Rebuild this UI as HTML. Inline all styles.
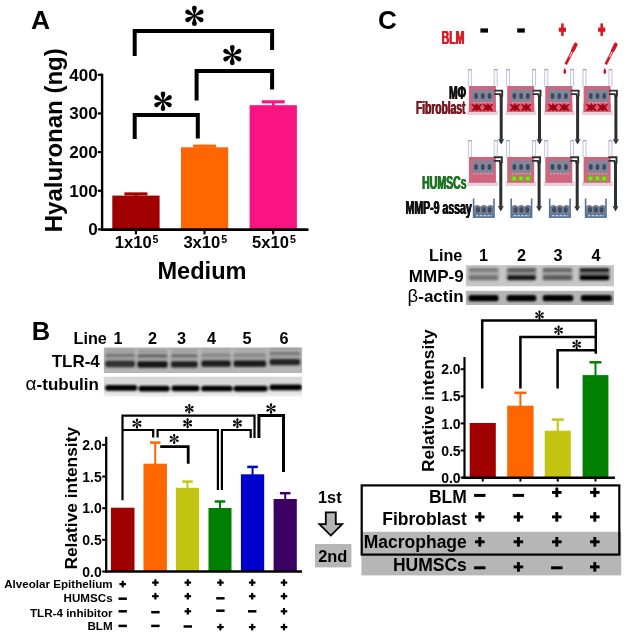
<!DOCTYPE html>
<html><head><meta charset="utf-8"><title>Figure</title>
<style>
html,body{margin:0;padding:0;background:#fff;}
body{width:628px;height:635px;overflow:hidden;}
svg{display:block;font-family:'Liberation Sans',sans-serif;filter:blur(0.45px);}
svg text{font-family:'Liberation Sans',sans-serif;}
</style></head>
<body>
<svg width="628" height="635" viewBox="0 0 628 635">
<defs>
<filter id="blur1" x="-5%" y="-50%" width="110%" height="200%"><feGaussianBlur stdDeviation="1.1 0.9"/></filter>
</defs>
<rect width="628" height="635" fill="#fff"/>
<text x="31" y="28.6" font-size="26.4" font-weight="bold" text-anchor="start" fill="#000"  style="">A</text>
<text transform="translate(62,232.3) rotate(-90)" font-size="24" font-weight="bold">Hyaluronan (ng)</text>
<line x1="135.95" y1="193.9" x2="135.95" y2="196.6" stroke="#a00000" stroke-width="2.6" stroke-linecap="butt"/>
<line x1="124.44999999999999" y1="193.9" x2="147.45" y2="193.9" stroke="#a00000" stroke-width="3.1" stroke-linecap="butt"/>
<rect x="112.3" y="195.6" width="47.3" height="33.80000000000001" fill="#a00000" />
<line x1="204.6" y1="146.1" x2="204.6" y2="148.3" stroke="#ff6600" stroke-width="2.6" stroke-linecap="butt"/>
<line x1="193.1" y1="146.1" x2="216.1" y2="146.1" stroke="#ff6600" stroke-width="3.1" stroke-linecap="butt"/>
<rect x="181.0" y="147.3" width="47.19999999999999" height="82.1" fill="#ff6600" />
<line x1="273.25" y1="101.8" x2="273.25" y2="106.2" stroke="#fa1482" stroke-width="2.6" stroke-linecap="butt"/>
<line x1="261.75" y1="101.8" x2="284.75" y2="101.8" stroke="#fa1482" stroke-width="3.1" stroke-linecap="butt"/>
<rect x="249.6" y="105.2" width="47.29999999999998" height="124.2" fill="#fa1482" />
<line x1="102.1" y1="73.7" x2="102.1" y2="230.8" stroke="#000" stroke-width="2.4" stroke-linecap="butt"/>
<line x1="100.9" y1="229.6" x2="308.5" y2="229.6" stroke="#000" stroke-width="2.8" stroke-linecap="butt"/>
<line x1="97.8" y1="74.8" x2="102" y2="74.8" stroke="#000" stroke-width="2.2" stroke-linecap="butt"/>
<text x="97.6" y="80.8" font-size="17" font-weight="bold" text-anchor="end" fill="#000"  style="">400</text>
<line x1="97.8" y1="113.44999999999999" x2="102" y2="113.44999999999999" stroke="#000" stroke-width="2.2" stroke-linecap="butt"/>
<text x="97.6" y="119.44999999999999" font-size="17" font-weight="bold" text-anchor="end" fill="#000"  style="">300</text>
<line x1="97.8" y1="152.1" x2="102" y2="152.1" stroke="#000" stroke-width="2.2" stroke-linecap="butt"/>
<text x="97.6" y="158.1" font-size="17" font-weight="bold" text-anchor="end" fill="#000"  style="">200</text>
<line x1="97.8" y1="190.75" x2="102" y2="190.75" stroke="#000" stroke-width="2.2" stroke-linecap="butt"/>
<text x="97.6" y="196.75" font-size="17" font-weight="bold" text-anchor="end" fill="#000"  style="">100</text>
<line x1="97.8" y1="229.39999999999998" x2="102" y2="229.39999999999998" stroke="#000" stroke-width="2.2" stroke-linecap="butt"/>
<text x="97.6" y="235.39999999999998" font-size="17" font-weight="bold" text-anchor="end" fill="#000"  style="">0</text>
<line x1="135.9" y1="229.6" x2="135.9" y2="234.4" stroke="#000" stroke-width="2.2" stroke-linecap="butt"/>
<line x1="204.5" y1="229.6" x2="204.5" y2="234.4" stroke="#000" stroke-width="2.2" stroke-linecap="butt"/>
<line x1="273.2" y1="229.6" x2="273.2" y2="234.4" stroke="#000" stroke-width="2.2" stroke-linecap="butt"/>
<text x="114.8" y="247.6" font-size="16.6" font-weight="bold">1x10<tspan font-size="10.6" dy="-5" dx="0.9">5</tspan></text>
<text x="183.4" y="247.6" font-size="16.6" font-weight="bold">3x10<tspan font-size="10.6" dy="-5" dx="0.9">5</tspan></text>
<text x="252.1" y="247.6" font-size="16.6" font-weight="bold">5x10<tspan font-size="10.6" dy="-5" dx="0.9">5</tspan></text>
<text x="202" y="279.2" font-size="23.6" font-weight="bold" text-anchor="middle" fill="#000"  style="">Medium</text>
<polyline points="134.7,56 134.7,31 272.1,31 272.1,50" fill="none" stroke="#000" stroke-width="4" stroke-linejoin="miter" stroke-linecap="butt"/>
<g transform="translate(194.4,15.9)" fill="#000">
<path d="M-0.51,0 C-0.714,-3.06 -2.3970000000000002,-5.9159999999999995 -2.3970000000000002,-7.803000000000001 A2.3970000000000002,2.3970000000000002 0 1 1 2.3970000000000002,-7.803000000000001 C2.3970000000000002,-5.9159999999999995 0.714,-3.06 0.51,0 Z" transform="rotate(0)"/>
<path d="M-0.51,0 C-0.714,-3.06 -2.3970000000000002,-5.9159999999999995 -2.3970000000000002,-7.803000000000001 A2.3970000000000002,2.3970000000000002 0 1 1 2.3970000000000002,-7.803000000000001 C2.3970000000000002,-5.9159999999999995 0.714,-3.06 0.51,0 Z" transform="rotate(60)"/>
<path d="M-0.51,0 C-0.714,-3.06 -2.3970000000000002,-5.9159999999999995 -2.3970000000000002,-7.803000000000001 A2.3970000000000002,2.3970000000000002 0 1 1 2.3970000000000002,-7.803000000000001 C2.3970000000000002,-5.9159999999999995 0.714,-3.06 0.51,0 Z" transform="rotate(120)"/>
<path d="M-0.51,0 C-0.714,-3.06 -2.3970000000000002,-5.9159999999999995 -2.3970000000000002,-7.803000000000001 A2.3970000000000002,2.3970000000000002 0 1 1 2.3970000000000002,-7.803000000000001 C2.3970000000000002,-5.9159999999999995 0.714,-3.06 0.51,0 Z" transform="rotate(180)"/>
<path d="M-0.51,0 C-0.714,-3.06 -2.3970000000000002,-5.9159999999999995 -2.3970000000000002,-7.803000000000001 A2.3970000000000002,2.3970000000000002 0 1 1 2.3970000000000002,-7.803000000000001 C2.3970000000000002,-5.9159999999999995 0.714,-3.06 0.51,0 Z" transform="rotate(240)"/>
<path d="M-0.51,0 C-0.714,-3.06 -2.3970000000000002,-5.9159999999999995 -2.3970000000000002,-7.803000000000001 A2.3970000000000002,2.3970000000000002 0 1 1 2.3970000000000002,-7.803000000000001 C2.3970000000000002,-5.9159999999999995 0.714,-3.06 0.51,0 Z" transform="rotate(300)"/>
<circle r="1.122"/>
</g>
<polyline points="196.6,100.5 196.6,70.9 272.1,70.9 272.1,89.5" fill="none" stroke="#000" stroke-width="4" stroke-linejoin="miter" stroke-linecap="butt"/>
<g transform="translate(232.3,55.1)" fill="#000">
<path d="M-0.505,0 C-0.707,-3.0300000000000002 -2.3735,-5.858 -2.3735,-7.726500000000001 A2.3735,2.3735 0 1 1 2.3735,-7.726500000000001 C2.3735,-5.858 0.707,-3.0300000000000002 0.505,0 Z" transform="rotate(0)"/>
<path d="M-0.505,0 C-0.707,-3.0300000000000002 -2.3735,-5.858 -2.3735,-7.726500000000001 A2.3735,2.3735 0 1 1 2.3735,-7.726500000000001 C2.3735,-5.858 0.707,-3.0300000000000002 0.505,0 Z" transform="rotate(60)"/>
<path d="M-0.505,0 C-0.707,-3.0300000000000002 -2.3735,-5.858 -2.3735,-7.726500000000001 A2.3735,2.3735 0 1 1 2.3735,-7.726500000000001 C2.3735,-5.858 0.707,-3.0300000000000002 0.505,0 Z" transform="rotate(120)"/>
<path d="M-0.505,0 C-0.707,-3.0300000000000002 -2.3735,-5.858 -2.3735,-7.726500000000001 A2.3735,2.3735 0 1 1 2.3735,-7.726500000000001 C2.3735,-5.858 0.707,-3.0300000000000002 0.505,0 Z" transform="rotate(180)"/>
<path d="M-0.505,0 C-0.707,-3.0300000000000002 -2.3735,-5.858 -2.3735,-7.726500000000001 A2.3735,2.3735 0 1 1 2.3735,-7.726500000000001 C2.3735,-5.858 0.707,-3.0300000000000002 0.505,0 Z" transform="rotate(240)"/>
<path d="M-0.505,0 C-0.707,-3.0300000000000002 -2.3735,-5.858 -2.3735,-7.726500000000001 A2.3735,2.3735 0 1 1 2.3735,-7.726500000000001 C2.3735,-5.858 0.707,-3.0300000000000002 0.505,0 Z" transform="rotate(300)"/>
<circle r="1.1110000000000002"/>
</g>
<polyline points="134.7,139 134.7,114.9 197.8,114.9 197.8,138.5" fill="none" stroke="#000" stroke-width="4" stroke-linejoin="miter" stroke-linecap="butt"/>
<g transform="translate(163,101.2)" fill="#000">
<path d="M-0.49000000000000005,0 C-0.686,-2.9400000000000004 -2.3030000000000004,-5.684 -2.3030000000000004,-7.497000000000001 A2.3030000000000004,2.3030000000000004 0 1 1 2.3030000000000004,-7.497000000000001 C2.3030000000000004,-5.684 0.686,-2.9400000000000004 0.49000000000000005,0 Z" transform="rotate(0)"/>
<path d="M-0.49000000000000005,0 C-0.686,-2.9400000000000004 -2.3030000000000004,-5.684 -2.3030000000000004,-7.497000000000001 A2.3030000000000004,2.3030000000000004 0 1 1 2.3030000000000004,-7.497000000000001 C2.3030000000000004,-5.684 0.686,-2.9400000000000004 0.49000000000000005,0 Z" transform="rotate(60)"/>
<path d="M-0.49000000000000005,0 C-0.686,-2.9400000000000004 -2.3030000000000004,-5.684 -2.3030000000000004,-7.497000000000001 A2.3030000000000004,2.3030000000000004 0 1 1 2.3030000000000004,-7.497000000000001 C2.3030000000000004,-5.684 0.686,-2.9400000000000004 0.49000000000000005,0 Z" transform="rotate(120)"/>
<path d="M-0.49000000000000005,0 C-0.686,-2.9400000000000004 -2.3030000000000004,-5.684 -2.3030000000000004,-7.497000000000001 A2.3030000000000004,2.3030000000000004 0 1 1 2.3030000000000004,-7.497000000000001 C2.3030000000000004,-5.684 0.686,-2.9400000000000004 0.49000000000000005,0 Z" transform="rotate(180)"/>
<path d="M-0.49000000000000005,0 C-0.686,-2.9400000000000004 -2.3030000000000004,-5.684 -2.3030000000000004,-7.497000000000001 A2.3030000000000004,2.3030000000000004 0 1 1 2.3030000000000004,-7.497000000000001 C2.3030000000000004,-5.684 0.686,-2.9400000000000004 0.49000000000000005,0 Z" transform="rotate(240)"/>
<path d="M-0.49000000000000005,0 C-0.686,-2.9400000000000004 -2.3030000000000004,-5.684 -2.3030000000000004,-7.497000000000001 A2.3030000000000004,2.3030000000000004 0 1 1 2.3030000000000004,-7.497000000000001 C2.3030000000000004,-5.684 0.686,-2.9400000000000004 0.49000000000000005,0 Z" transform="rotate(300)"/>
<circle r="1.0780000000000003"/>
</g>
<text x="31.8" y="340.2" font-size="25.5" font-weight="bold" text-anchor="start" fill="#000"  style="">B</text>
<text x="73.6" y="343.6" font-size="16.2" font-weight="bold" text-anchor="start" fill="#000"  style="">Line</text>
<text x="118.0" y="343.6" font-size="16.2" font-weight="bold" text-anchor="middle" fill="#000"  style="">1</text>
<text x="152.4" y="343.6" font-size="16.2" font-weight="bold" text-anchor="middle" fill="#000"  style="">2</text>
<text x="181.6" y="343.6" font-size="16.2" font-weight="bold" text-anchor="middle" fill="#000"  style="">3</text>
<text x="211.6" y="343.6" font-size="16.2" font-weight="bold" text-anchor="middle" fill="#000"  style="">4</text>
<text x="247.1" y="343.6" font-size="16.2" font-weight="bold" text-anchor="middle" fill="#000"  style="">5</text>
<text x="283.9" y="343.6" font-size="16.2" font-weight="bold" text-anchor="middle" fill="#000"  style="">6</text>
<text x="99.8" y="367.4" font-size="17" font-weight="bold" text-anchor="end" fill="#000"  style="">TLR-4</text>
<text x="98.9" y="389.7" font-size="17" font-weight="bold" text-anchor="end"><tspan font-weight="normal" font-size="19">α</tspan>-tubulin</text>
<linearGradient id="gb1" x1="0" y1="0" x2="0" y2="1"><stop offset="0" stop-color="#b2b2b2"/><stop offset="0.45" stop-color="#c0c0c0"/><stop offset="1" stop-color="#b4b4b4"/></linearGradient>
<g clip-path="url(#b1c)"><clipPath id="b1c"><rect x="103.6" y="347.3" width="198.7" height="25.8"/></clipPath>
<rect x="103.6" y="347.3" width="198.7" height="25.8" fill="url(#gb1)" />
<g filter="url(#blur1)">
<rect x="104.39999999999999" y="353.4" width="31.4" height="15" rx="2.6" fill="#7c7c7c" opacity="0.42"/>
<rect x="105.39999999999999" y="353.59999999999997" width="29.4" height="3.4" rx="1.7" fill="#505050" opacity="0.55"/>
<rect x="105.39999999999999" y="349.4" width="29.4" height="2.6" rx="1.3" fill="#707070" opacity="0.385"/>
<rect x="105.14999999999999" y="360.59999999999997" width="29.9" height="6.6" rx="2.6" fill="#141414" opacity="0.8"/>
<rect x="136.55" y="353.9" width="31.9" height="15" rx="2.6" fill="#7c7c7c" opacity="0.42"/>
<rect x="137.55" y="354.09999999999997" width="29.9" height="3.4" rx="1.7" fill="#505050" opacity="0.7"/>
<rect x="137.55" y="349.9" width="29.9" height="2.6" rx="1.3" fill="#707070" opacity="0.48999999999999994"/>
<rect x="137.3" y="361.09999999999997" width="30.4" height="6.6" rx="2.6" fill="#141414" opacity="1.0"/>
<rect x="170.10000000000002" y="353.7" width="28.4" height="15" rx="2.6" fill="#7c7c7c" opacity="0.42"/>
<rect x="171.10000000000002" y="353.9" width="26.4" height="3.4" rx="1.7" fill="#505050" opacity="0.6"/>
<rect x="171.10000000000002" y="349.7" width="26.4" height="2.6" rx="1.3" fill="#707070" opacity="0.42"/>
<rect x="170.85000000000002" y="360.9" width="26.9" height="6.6" rx="2.6" fill="#141414" opacity="0.9"/>
<rect x="200.45" y="353.1" width="31.1" height="15" rx="2.6" fill="#7c7c7c" opacity="0.42"/>
<rect x="201.45" y="353.3" width="29.1" height="3.4" rx="1.7" fill="#505050" opacity="0.3"/>
<rect x="201.45" y="349.1" width="29.1" height="2.6" rx="1.3" fill="#707070" opacity="0.21"/>
<rect x="201.2" y="360.3" width="29.6" height="6.6" rx="2.6" fill="#141414" opacity="0.92"/>
<rect x="232.8" y="353.1" width="34.2" height="15" rx="2.6" fill="#7c7c7c" opacity="0.42"/>
<rect x="233.8" y="353.3" width="32.2" height="3.4" rx="1.7" fill="#505050" opacity="0.3"/>
<rect x="233.8" y="349.1" width="32.2" height="2.6" rx="1.3" fill="#707070" opacity="0.21"/>
<rect x="233.55" y="360.3" width="32.7" height="6.6" rx="2.6" fill="#141414" opacity="0.95"/>
<rect x="268.75" y="351.5" width="32.3" height="15" rx="2.6" fill="#7c7c7c" opacity="0.42"/>
<rect x="269.75" y="351.7" width="30.3" height="3.4" rx="1.7" fill="#505050" opacity="0.5"/>
<rect x="269.75" y="347.5" width="30.3" height="2.6" rx="1.3" fill="#707070" opacity="0.35"/>
<rect x="269.5" y="358.7" width="30.8" height="6.6" rx="2.6" fill="#141414" opacity="0.85"/>
</g></g>
<linearGradient id="gb2" x1="0" y1="0" x2="0" y2="1"><stop offset="0" stop-color="#d6d6d6"/><stop offset="0.7" stop-color="#dedede"/><stop offset="1" stop-color="#f0f0f0"/></linearGradient>
<g clip-path="url(#b2c)"><clipPath id="b2c"><rect x="103.6" y="376.4" width="198.7" height="20.4"/></clipPath>
<rect x="103.6" y="376.4" width="198.7" height="20.4" fill="url(#gb2)" />
<g filter="url(#blur1)">
<rect x="105.15" y="385.09999999999997" width="32.1" height="5.6" rx="2.6" fill="#060606" opacity="1"/>
<rect x="138.54999999999998" y="385.8" width="31.1" height="5.6" rx="2.6" fill="#060606" opacity="1"/>
<rect x="171.5" y="385.59999999999997" width="28.0" height="5.6" rx="2.6" fill="#060606" opacity="1"/>
<rect x="201.25" y="385.7" width="31.3" height="5.6" rx="2.6" fill="#060606" opacity="1"/>
<rect x="233.54999999999998" y="385.8" width="34.1" height="5.6" rx="2.6" fill="#060606" opacity="1"/>
<rect x="269.45" y="384.59999999999997" width="32.5" height="5.6" rx="2.6" fill="#060606" opacity="1"/>
</g></g>
<text transform="translate(76.7,569.6) rotate(-90)" font-size="17.35" font-weight="bold">Relative intensity</text>
<rect x="110.9" y="507.7" width="23.599999999999994" height="63.69999999999999" fill="#a00000" />
<line x1="155.2" y1="442.6" x2="155.2" y2="464.7" stroke="#ff6600" stroke-width="2" stroke-linecap="butt"/>
<line x1="149.89999999999998" y1="442.6" x2="160.5" y2="442.6" stroke="#ff6600" stroke-width="2.5" stroke-linecap="butt"/>
<rect x="143.5" y="463.7" width="23.400000000000006" height="107.69999999999999" fill="#ff6600" />
<line x1="187.5" y1="481.6" x2="187.5" y2="488.8" stroke="#c4c412" stroke-width="2" stroke-linecap="butt"/>
<line x1="182.2" y1="481.6" x2="192.8" y2="481.6" stroke="#c4c412" stroke-width="2.5" stroke-linecap="butt"/>
<rect x="175.9" y="487.8" width="23.19999999999999" height="83.59999999999997" fill="#c4c412" />
<line x1="220.0" y1="501.5" x2="220.0" y2="509.0" stroke="#008000" stroke-width="2" stroke-linecap="butt"/>
<line x1="214.7" y1="501.5" x2="225.3" y2="501.5" stroke="#008000" stroke-width="2.5" stroke-linecap="butt"/>
<rect x="208.5" y="508.0" width="23.0" height="63.39999999999998" fill="#008000" />
<line x1="252.55" y1="466.9" x2="252.55" y2="475.3" stroke="#0000cd" stroke-width="2" stroke-linecap="butt"/>
<line x1="247.25" y1="466.9" x2="257.85" y2="466.9" stroke="#0000cd" stroke-width="2.5" stroke-linecap="butt"/>
<rect x="240.9" y="474.3" width="23.299999999999983" height="97.09999999999997" fill="#0000cd" />
<line x1="285.20000000000005" y1="493.2" x2="285.20000000000005" y2="500.0" stroke="#3c0064" stroke-width="2" stroke-linecap="butt"/>
<line x1="279.90000000000003" y1="493.2" x2="290.50000000000006" y2="493.2" stroke="#3c0064" stroke-width="2.5" stroke-linecap="butt"/>
<rect x="273.6" y="499.0" width="23.19999999999999" height="72.39999999999998" fill="#3c0064" />
<line x1="106.2" y1="436.8" x2="106.2" y2="572.6" stroke="#000" stroke-width="2.3" stroke-linecap="butt"/>
<line x1="105.1" y1="571.5" x2="302" y2="571.5" stroke="#000" stroke-width="2.4" stroke-linecap="butt"/>
<line x1="102.2" y1="444.9" x2="106.2" y2="444.9" stroke="#000" stroke-width="2" stroke-linecap="butt"/>
<text x="101.8" y="450.0" font-size="14" font-weight="bold" text-anchor="end" fill="#000"  style="">2.0</text>
<line x1="102.2" y1="476.54999999999995" x2="106.2" y2="476.54999999999995" stroke="#000" stroke-width="2" stroke-linecap="butt"/>
<text x="101.8" y="481.65" font-size="14" font-weight="bold" text-anchor="end" fill="#000"  style="">1.5</text>
<line x1="102.2" y1="508.2" x2="106.2" y2="508.2" stroke="#000" stroke-width="2" stroke-linecap="butt"/>
<text x="101.8" y="513.3" font-size="14" font-weight="bold" text-anchor="end" fill="#000"  style="">1.0</text>
<line x1="102.2" y1="539.8499999999999" x2="106.2" y2="539.8499999999999" stroke="#000" stroke-width="2" stroke-linecap="butt"/>
<text x="101.8" y="544.9499999999999" font-size="14" font-weight="bold" text-anchor="end" fill="#000"  style="">0.5</text>
<line x1="102.2" y1="571.5" x2="106.2" y2="571.5" stroke="#000" stroke-width="2" stroke-linecap="butt"/>
<text x="101.8" y="576.6" font-size="14" font-weight="bold" text-anchor="end" fill="#000"  style="">0.0</text>
<polyline points="122.5,500.2 122.5,415.7 254.5,415.7 254.5,438" fill="none" stroke="#000" stroke-width="2.2" stroke-linejoin="miter" stroke-linecap="butt"/>
<polyline points="122.5,430 153.2,430 153.2,437.5" fill="none" stroke="#000" stroke-width="2.2" stroke-linejoin="miter" stroke-linecap="butt"/>
<polyline points="157.6,437.5 157.6,430 217.9,430 217.9,490" fill="none" stroke="#000" stroke-width="2.2" stroke-linejoin="miter" stroke-linecap="butt"/>
<polyline points="221.9,490 221.9,430 250.7,430 250.7,438" fill="none" stroke="#000" stroke-width="2.2" stroke-linejoin="miter" stroke-linecap="butt"/>
<polyline points="258.9,438 258.9,415.6 283.5,415.6 283.5,472" fill="none" stroke="#000" stroke-width="3" stroke-linejoin="miter" stroke-linecap="butt"/>
<polyline points="160.2,446.6 188.2,446.6 188.2,463.8" fill="none" stroke="#000" stroke-width="2.8" stroke-linejoin="miter" stroke-linecap="butt"/>
<g transform="translate(189.3,408.8)" fill="#000">
<path d="M-0.24,0 C-0.33599999999999997,-1.44 -1.128,-2.784 -1.128,-3.672 A1.128,1.128 0 1 1 1.128,-3.672 C1.128,-2.784 0.33599999999999997,-1.44 0.24,0 Z" transform="rotate(0)"/>
<path d="M-0.24,0 C-0.33599999999999997,-1.44 -1.128,-2.784 -1.128,-3.672 A1.128,1.128 0 1 1 1.128,-3.672 C1.128,-2.784 0.33599999999999997,-1.44 0.24,0 Z" transform="rotate(60)"/>
<path d="M-0.24,0 C-0.33599999999999997,-1.44 -1.128,-2.784 -1.128,-3.672 A1.128,1.128 0 1 1 1.128,-3.672 C1.128,-2.784 0.33599999999999997,-1.44 0.24,0 Z" transform="rotate(120)"/>
<path d="M-0.24,0 C-0.33599999999999997,-1.44 -1.128,-2.784 -1.128,-3.672 A1.128,1.128 0 1 1 1.128,-3.672 C1.128,-2.784 0.33599999999999997,-1.44 0.24,0 Z" transform="rotate(180)"/>
<path d="M-0.24,0 C-0.33599999999999997,-1.44 -1.128,-2.784 -1.128,-3.672 A1.128,1.128 0 1 1 1.128,-3.672 C1.128,-2.784 0.33599999999999997,-1.44 0.24,0 Z" transform="rotate(240)"/>
<path d="M-0.24,0 C-0.33599999999999997,-1.44 -1.128,-2.784 -1.128,-3.672 A1.128,1.128 0 1 1 1.128,-3.672 C1.128,-2.784 0.33599999999999997,-1.44 0.24,0 Z" transform="rotate(300)"/>
<circle r="0.528"/>
</g>
<g transform="translate(137,423.6)" fill="#000">
<path d="M-0.25,0 C-0.35,-1.5 -1.175,-2.9 -1.175,-3.825 A1.175,1.175 0 1 1 1.175,-3.825 C1.175,-2.9 0.35,-1.5 0.25,0 Z" transform="rotate(0)"/>
<path d="M-0.25,0 C-0.35,-1.5 -1.175,-2.9 -1.175,-3.825 A1.175,1.175 0 1 1 1.175,-3.825 C1.175,-2.9 0.35,-1.5 0.25,0 Z" transform="rotate(60)"/>
<path d="M-0.25,0 C-0.35,-1.5 -1.175,-2.9 -1.175,-3.825 A1.175,1.175 0 1 1 1.175,-3.825 C1.175,-2.9 0.35,-1.5 0.25,0 Z" transform="rotate(120)"/>
<path d="M-0.25,0 C-0.35,-1.5 -1.175,-2.9 -1.175,-3.825 A1.175,1.175 0 1 1 1.175,-3.825 C1.175,-2.9 0.35,-1.5 0.25,0 Z" transform="rotate(180)"/>
<path d="M-0.25,0 C-0.35,-1.5 -1.175,-2.9 -1.175,-3.825 A1.175,1.175 0 1 1 1.175,-3.825 C1.175,-2.9 0.35,-1.5 0.25,0 Z" transform="rotate(240)"/>
<path d="M-0.25,0 C-0.35,-1.5 -1.175,-2.9 -1.175,-3.825 A1.175,1.175 0 1 1 1.175,-3.825 C1.175,-2.9 0.35,-1.5 0.25,0 Z" transform="rotate(300)"/>
<circle r="0.55"/>
</g>
<g transform="translate(187.6,423.3)" fill="#000">
<path d="M-0.25,0 C-0.35,-1.5 -1.175,-2.9 -1.175,-3.825 A1.175,1.175 0 1 1 1.175,-3.825 C1.175,-2.9 0.35,-1.5 0.25,0 Z" transform="rotate(0)"/>
<path d="M-0.25,0 C-0.35,-1.5 -1.175,-2.9 -1.175,-3.825 A1.175,1.175 0 1 1 1.175,-3.825 C1.175,-2.9 0.35,-1.5 0.25,0 Z" transform="rotate(60)"/>
<path d="M-0.25,0 C-0.35,-1.5 -1.175,-2.9 -1.175,-3.825 A1.175,1.175 0 1 1 1.175,-3.825 C1.175,-2.9 0.35,-1.5 0.25,0 Z" transform="rotate(120)"/>
<path d="M-0.25,0 C-0.35,-1.5 -1.175,-2.9 -1.175,-3.825 A1.175,1.175 0 1 1 1.175,-3.825 C1.175,-2.9 0.35,-1.5 0.25,0 Z" transform="rotate(180)"/>
<path d="M-0.25,0 C-0.35,-1.5 -1.175,-2.9 -1.175,-3.825 A1.175,1.175 0 1 1 1.175,-3.825 C1.175,-2.9 0.35,-1.5 0.25,0 Z" transform="rotate(240)"/>
<path d="M-0.25,0 C-0.35,-1.5 -1.175,-2.9 -1.175,-3.825 A1.175,1.175 0 1 1 1.175,-3.825 C1.175,-2.9 0.35,-1.5 0.25,0 Z" transform="rotate(300)"/>
<circle r="0.55"/>
</g>
<g transform="translate(237.4,423.3)" fill="#000">
<path d="M-0.25,0 C-0.35,-1.5 -1.175,-2.9 -1.175,-3.825 A1.175,1.175 0 1 1 1.175,-3.825 C1.175,-2.9 0.35,-1.5 0.25,0 Z" transform="rotate(0)"/>
<path d="M-0.25,0 C-0.35,-1.5 -1.175,-2.9 -1.175,-3.825 A1.175,1.175 0 1 1 1.175,-3.825 C1.175,-2.9 0.35,-1.5 0.25,0 Z" transform="rotate(60)"/>
<path d="M-0.25,0 C-0.35,-1.5 -1.175,-2.9 -1.175,-3.825 A1.175,1.175 0 1 1 1.175,-3.825 C1.175,-2.9 0.35,-1.5 0.25,0 Z" transform="rotate(120)"/>
<path d="M-0.25,0 C-0.35,-1.5 -1.175,-2.9 -1.175,-3.825 A1.175,1.175 0 1 1 1.175,-3.825 C1.175,-2.9 0.35,-1.5 0.25,0 Z" transform="rotate(180)"/>
<path d="M-0.25,0 C-0.35,-1.5 -1.175,-2.9 -1.175,-3.825 A1.175,1.175 0 1 1 1.175,-3.825 C1.175,-2.9 0.35,-1.5 0.25,0 Z" transform="rotate(240)"/>
<path d="M-0.25,0 C-0.35,-1.5 -1.175,-2.9 -1.175,-3.825 A1.175,1.175 0 1 1 1.175,-3.825 C1.175,-2.9 0.35,-1.5 0.25,0 Z" transform="rotate(300)"/>
<circle r="0.55"/>
</g>
<g transform="translate(271,408.5)" fill="#000">
<path d="M-0.26,0 C-0.364,-1.56 -1.2220000000000002,-3.016 -1.2220000000000002,-3.978 A1.2220000000000002,1.2220000000000002 0 1 1 1.2220000000000002,-3.978 C1.2220000000000002,-3.016 0.364,-1.56 0.26,0 Z" transform="rotate(0)"/>
<path d="M-0.26,0 C-0.364,-1.56 -1.2220000000000002,-3.016 -1.2220000000000002,-3.978 A1.2220000000000002,1.2220000000000002 0 1 1 1.2220000000000002,-3.978 C1.2220000000000002,-3.016 0.364,-1.56 0.26,0 Z" transform="rotate(60)"/>
<path d="M-0.26,0 C-0.364,-1.56 -1.2220000000000002,-3.016 -1.2220000000000002,-3.978 A1.2220000000000002,1.2220000000000002 0 1 1 1.2220000000000002,-3.978 C1.2220000000000002,-3.016 0.364,-1.56 0.26,0 Z" transform="rotate(120)"/>
<path d="M-0.26,0 C-0.364,-1.56 -1.2220000000000002,-3.016 -1.2220000000000002,-3.978 A1.2220000000000002,1.2220000000000002 0 1 1 1.2220000000000002,-3.978 C1.2220000000000002,-3.016 0.364,-1.56 0.26,0 Z" transform="rotate(180)"/>
<path d="M-0.26,0 C-0.364,-1.56 -1.2220000000000002,-3.016 -1.2220000000000002,-3.978 A1.2220000000000002,1.2220000000000002 0 1 1 1.2220000000000002,-3.978 C1.2220000000000002,-3.016 0.364,-1.56 0.26,0 Z" transform="rotate(240)"/>
<path d="M-0.26,0 C-0.364,-1.56 -1.2220000000000002,-3.016 -1.2220000000000002,-3.978 A1.2220000000000002,1.2220000000000002 0 1 1 1.2220000000000002,-3.978 C1.2220000000000002,-3.016 0.364,-1.56 0.26,0 Z" transform="rotate(300)"/>
<circle r="0.5720000000000001"/>
</g>
<g transform="translate(174.2,438.9)" fill="#000">
<path d="M-0.25,0 C-0.35,-1.5 -1.175,-2.9 -1.175,-3.825 A1.175,1.175 0 1 1 1.175,-3.825 C1.175,-2.9 0.35,-1.5 0.25,0 Z" transform="rotate(0)"/>
<path d="M-0.25,0 C-0.35,-1.5 -1.175,-2.9 -1.175,-3.825 A1.175,1.175 0 1 1 1.175,-3.825 C1.175,-2.9 0.35,-1.5 0.25,0 Z" transform="rotate(60)"/>
<path d="M-0.25,0 C-0.35,-1.5 -1.175,-2.9 -1.175,-3.825 A1.175,1.175 0 1 1 1.175,-3.825 C1.175,-2.9 0.35,-1.5 0.25,0 Z" transform="rotate(120)"/>
<path d="M-0.25,0 C-0.35,-1.5 -1.175,-2.9 -1.175,-3.825 A1.175,1.175 0 1 1 1.175,-3.825 C1.175,-2.9 0.35,-1.5 0.25,0 Z" transform="rotate(180)"/>
<path d="M-0.25,0 C-0.35,-1.5 -1.175,-2.9 -1.175,-3.825 A1.175,1.175 0 1 1 1.175,-3.825 C1.175,-2.9 0.35,-1.5 0.25,0 Z" transform="rotate(240)"/>
<path d="M-0.25,0 C-0.35,-1.5 -1.175,-2.9 -1.175,-3.825 A1.175,1.175 0 1 1 1.175,-3.825 C1.175,-2.9 0.35,-1.5 0.25,0 Z" transform="rotate(300)"/>
<circle r="0.55"/>
</g>
<text transform="translate(112.6,587.5) scale(1.13,1)" font-size="10.3" font-weight="bold" text-anchor="end">Alveolar Epithelium</text>
<text transform="translate(112.6,602.2) scale(1.13,1)" font-size="10.3" font-weight="bold" text-anchor="end">HUMSCs</text>
<text transform="translate(112.6,616.5) scale(1.13,1)" font-size="10.3" font-weight="bold" text-anchor="end">TLR-4 inhibitor</text>
<text transform="translate(112.6,630) scale(1.13,1)" font-size="10.3" font-weight="bold" text-anchor="end">BLM</text>
<rect x="119.4" y="583.0" width="6.6" height="2.2" fill="#000" />
<rect x="121.60000000000001" y="580.8000000000001" width="2.2" height="6.6" fill="#000" />
<rect x="152.1" y="581.5" width="6.6" height="2.2" fill="#000" />
<rect x="154.3" y="579.3000000000001" width="2.2" height="6.6" fill="#000" />
<rect x="184.5" y="581.5" width="6.6" height="2.2" fill="#000" />
<rect x="186.70000000000002" y="579.3000000000001" width="2.2" height="6.6" fill="#000" />
<rect x="217.1" y="581.5" width="6.6" height="2.2" fill="#000" />
<rect x="219.3" y="579.3000000000001" width="2.2" height="6.6" fill="#000" />
<rect x="248.89999999999998" y="581.5" width="6.6" height="2.2" fill="#000" />
<rect x="251.1" y="579.3000000000001" width="2.2" height="6.6" fill="#000" />
<rect x="280.7" y="581.5" width="6.6" height="2.2" fill="#000" />
<rect x="282.9" y="579.3000000000001" width="2.2" height="6.6" fill="#000" />
<rect x="118.5" y="597.45" width="8.4" height="2.5" fill="#000" />
<rect x="152.1" y="595.1" width="6.6" height="2.2" fill="#000" />
<rect x="154.3" y="592.9000000000001" width="2.2" height="6.6" fill="#000" />
<rect x="184.5" y="595.1" width="6.6" height="2.2" fill="#000" />
<rect x="186.70000000000002" y="592.9000000000001" width="2.2" height="6.6" fill="#000" />
<rect x="216.20000000000002" y="597.05" width="8.4" height="2.5" fill="#000" />
<rect x="248.89999999999998" y="595.1" width="6.6" height="2.2" fill="#000" />
<rect x="251.1" y="592.9000000000001" width="2.2" height="6.6" fill="#000" />
<rect x="280.7" y="595.1" width="6.6" height="2.2" fill="#000" />
<rect x="282.9" y="592.9000000000001" width="2.2" height="6.6" fill="#000" />
<rect x="118.5" y="610.05" width="8.4" height="2.5" fill="#000" />
<rect x="151.20000000000002" y="610.95" width="8.4" height="2.5" fill="#000" />
<rect x="184.5" y="610.1999999999999" width="6.6" height="2.2" fill="#000" />
<rect x="186.70000000000002" y="608.0" width="2.2" height="6.6" fill="#000" />
<rect x="216.20000000000002" y="609.45" width="8.4" height="2.5" fill="#000" />
<rect x="248.0" y="610.05" width="8.4" height="2.5" fill="#000" />
<rect x="280.7" y="610.1999999999999" width="6.6" height="2.2" fill="#000" />
<rect x="282.9" y="608.0" width="2.2" height="6.6" fill="#000" />
<rect x="118.5" y="624.65" width="8.4" height="2.5" fill="#000" />
<rect x="151.20000000000002" y="624.65" width="8.4" height="2.5" fill="#000" />
<rect x="183.60000000000002" y="625.25" width="8.4" height="2.5" fill="#000" />
<rect x="217.1" y="626.0" width="6.6" height="2.2" fill="#000" />
<rect x="219.3" y="623.8000000000001" width="2.2" height="6.6" fill="#000" />
<rect x="248.89999999999998" y="626.0" width="6.6" height="2.2" fill="#000" />
<rect x="251.1" y="623.8000000000001" width="2.2" height="6.6" fill="#000" />
<rect x="280.7" y="626.0" width="6.6" height="2.2" fill="#000" />
<rect x="282.9" y="623.8000000000001" width="2.2" height="6.6" fill="#000" />
<text x="318" y="502.6" font-size="16.4" font-weight="bold" text-anchor="start" fill="#000"  style="">1st</text>
<path d="M325.8,512.4 H335.8 V524.2 H342.2 L330.8,535.6 L319.4,524.2 H325.8 Z" fill="#b4b4b4" stroke="#000" stroke-width="1.8" stroke-linejoin="miter"/>
<rect x="315" y="544" width="36.4" height="23.4" fill="#b6b6b6" />
<text x="318.2" y="561.8" font-size="16.4" font-weight="bold" text-anchor="start" fill="#000"  style="">2nd</text>
<text x="377.9" y="28.5" font-size="26" font-weight="bold" text-anchor="start" fill="#000"  style="">C</text>
<text transform="translate(464.04999999999995,44) scale(0.55,1)" font-size="19.2" font-weight="bold" text-anchor="end" fill="#d6202c">BLM</text>
<text transform="translate(464.4,44) scale(0.55,1)" font-size="19.2" font-weight="bold" text-anchor="end" fill="#d6202c">BLM</text>
<text transform="translate(464.75,44) scale(0.55,1)" font-size="19.2" font-weight="bold" text-anchor="end" fill="#d6202c">BLM</text>
<text transform="translate(465.65,98.5) scale(0.55,1)" font-size="18.6" font-weight="bold" text-anchor="end" fill="#111">MΦ</text>
<text transform="translate(466,98.5) scale(0.55,1)" font-size="18.6" font-weight="bold" text-anchor="end" fill="#111">MΦ</text>
<text transform="translate(466.35,98.5) scale(0.55,1)" font-size="18.6" font-weight="bold" text-anchor="end" fill="#111">MΦ</text>
<text transform="translate(465.04999999999995,114) scale(0.55,1)" font-size="18.6" font-weight="bold" text-anchor="end" fill="#7a1a22">Fibroblast</text>
<text transform="translate(465.4,114) scale(0.55,1)" font-size="18.6" font-weight="bold" text-anchor="end" fill="#7a1a22">Fibroblast</text>
<text transform="translate(465.75,114) scale(0.55,1)" font-size="18.6" font-weight="bold" text-anchor="end" fill="#7a1a22">Fibroblast</text>
<text transform="translate(466.25,188.7) scale(0.55,1)" font-size="19.2" font-weight="bold" text-anchor="end" fill="#1c7424">HUMSCs</text>
<text transform="translate(466.6,188.7) scale(0.55,1)" font-size="19.2" font-weight="bold" text-anchor="end" fill="#1c7424">HUMSCs</text>
<text transform="translate(466.95000000000005,188.7) scale(0.55,1)" font-size="19.2" font-weight="bold" text-anchor="end" fill="#1c7424">HUMSCs</text>
<text transform="translate(471.45,214.2) scale(0.55,1)" font-size="19.2" font-weight="bold" text-anchor="end" fill="#111">MMP-9 assay</text>
<text transform="translate(471.8,214.2) scale(0.55,1)" font-size="19.2" font-weight="bold" text-anchor="end" fill="#111">MMP-9 assay</text>
<text transform="translate(472.15000000000003,214.2) scale(0.55,1)" font-size="19.2" font-weight="bold" text-anchor="end" fill="#111">MMP-9 assay</text>
<rect x="480.4" y="28.4" width="7.6" height="4.2" fill="#000" />
<rect x="517.2" y="28.4" width="7.6" height="4.2" fill="#000" />
<rect x="558.8" y="27.6" width="7.2" height="4.2" fill="#e01420" />
<rect x="561.1" y="23.4" width="2.6" height="12.5" fill="#e01420" />
<rect x="598.1" y="27.6" width="7.2" height="4.2" fill="#e01420" />
<rect x="600.4000000000001" y="23.4" width="2.6" height="12.5" fill="#e01420" />
<g transform="translate(0,0)">
<line x1="575.7" y1="44.6" x2="573.0" y2="50.0" stroke="#d81424" stroke-width="3.8" stroke-linecap="round"/>
<line x1="572.9" y1="50.2" x2="565.7" y2="64.4" stroke="#d81424" stroke-width="2.7" stroke-linecap="butt"/>
<line x1="572.0" y1="52.0" x2="569.4" y2="57.2" stroke="#fff" stroke-width="0.9" stroke-linecap="butt"/>
<path d="M564.8,68 C566.6,70.6 566.6,73.8 564.8,73.8 C563,73.8 563,70.6 564.8,68 Z" fill="#cc1020"/>
</g>
<g transform="translate(40,0)">
<line x1="575.7" y1="44.6" x2="573.0" y2="50.0" stroke="#d81424" stroke-width="3.8" stroke-linecap="round"/>
<line x1="572.9" y1="50.2" x2="565.7" y2="64.4" stroke="#d81424" stroke-width="2.7" stroke-linecap="butt"/>
<line x1="572.0" y1="52.0" x2="569.4" y2="57.2" stroke="#fff" stroke-width="0.9" stroke-linecap="butt"/>
<path d="M564.8,68 C566.6,70.6 566.6,73.8 564.8,73.8 C563,73.8 563,70.6 564.8,68 Z" fill="#cc1020"/>
</g>
<path d="M468.29999999999995,86.5 V69.6 H471.4 V86.5" fill="#fbfbfd" stroke="#bcbcd8" stroke-width="0.9"/>
<line x1="468.09999999999997" y1="69.6" x2="471.59999999999997" y2="69.6" stroke="#9c9cbc" stroke-width="1.1" stroke-linecap="butt"/>
<path d="M494.2,86.5 V69.6 H497.3 V86.5" fill="#fbfbfd" stroke="#bcbcd8" stroke-width="0.9"/>
<line x1="494.0" y1="69.6" x2="497.5" y2="69.6" stroke="#9c9cbc" stroke-width="1.1" stroke-linecap="butt"/>
<rect x="467.29999999999995" y="110.6" width="30.8" height="4.4" fill="#ead0da" />
<rect x="468.9" y="86" width="27" height="25.8" fill="#d0667e" />
<rect x="468.9" y="103.6" width="27" height="8.2" fill="#d85c72" />
<path d="M472.5,89.4 H493.7 V99.4 Q493.7,101.8 491.29999999999995,101.8 H474.9 Q472.5,101.8 472.5,99.4 Z" fill="#82869a"/>
<ellipse cx="476.09999999999997" cy="96" rx="1.9" ry="3" fill="#3c4a60"/>
<ellipse cx="482.79999999999995" cy="96" rx="1.9" ry="3" fill="#3c4a60"/>
<ellipse cx="489.5" cy="96" rx="1.9" ry="3" fill="#3c4a60"/>
<line x1="473.5" y1="102.8" x2="492.9" y2="102.8" stroke="#ecd0da" stroke-width="0.9" stroke-dasharray="2.2 1.2" opacity="0.7"/>
<path d="M471.9,104.2 L475.3,105.80000000000001 L476.7,103.60000000000001 L478.09999999999997,105.80000000000001 L481.5,104.2 L479.3,107.4 L481.5,110.80000000000001 L478.09999999999997,109.4 L476.7,111.0 L475.3,109.4 L471.9,110.80000000000001 L474.09999999999997,107.4 Z" fill="#a80818" stroke="#a80818" stroke-width="0.9" stroke-linejoin="round"/>
<ellipse cx="476.7" cy="107.60000000000001" rx="2.6" ry="1.9" fill="#9c0614"/>
<path d="M483.09999999999997,104.2 L486.5,105.80000000000001 L487.9,103.60000000000001 L489.29999999999995,105.80000000000001 L492.7,104.2 L490.5,107.4 L492.7,110.80000000000001 L489.29999999999995,109.4 L487.9,111.0 L486.5,109.4 L483.09999999999997,110.80000000000001 L485.29999999999995,107.4 Z" fill="#a80818" stroke="#a80818" stroke-width="0.9" stroke-linejoin="round"/>
<ellipse cx="487.9" cy="107.60000000000001" rx="2.6" ry="1.9" fill="#9c0614"/>
<path d="M468.29999999999995,157.5 V140.6 H471.4 V157.5" fill="#fbfbfd" stroke="#bcbcd8" stroke-width="0.9"/>
<line x1="468.09999999999997" y1="140.6" x2="471.59999999999997" y2="140.6" stroke="#9c9cbc" stroke-width="1.1" stroke-linecap="butt"/>
<path d="M494.2,157.5 V140.6 H497.3 V157.5" fill="#fbfbfd" stroke="#bcbcd8" stroke-width="0.9"/>
<line x1="494.0" y1="140.6" x2="497.5" y2="140.6" stroke="#9c9cbc" stroke-width="1.1" stroke-linecap="butt"/>
<rect x="467.29999999999995" y="181.6" width="30.8" height="4.4" fill="#ead0da" />
<rect x="468.9" y="157" width="27" height="25.8" fill="#d0667e" />
<path d="M472.5,160.4 H493.7 V170.4 Q493.7,172.8 491.29999999999995,172.8 H474.9 Q472.5,172.8 472.5,170.4 Z" fill="#82869a"/>
<ellipse cx="476.09999999999997" cy="167" rx="1.9" ry="3" fill="#3c4a60"/>
<ellipse cx="482.79999999999995" cy="167" rx="1.9" ry="3" fill="#3c4a60"/>
<ellipse cx="489.5" cy="167" rx="1.9" ry="3" fill="#3c4a60"/>
<line x1="473.5" y1="173.8" x2="492.9" y2="173.8" stroke="#ecd0da" stroke-width="0.9" stroke-dasharray="2.2 1.2" opacity="0.7"/>
<path d="M474.0,215.8 V206.4 Q477.2,203.6 480.4,206.4 Q483.8,203.6 487.2,206.4 Q490.4,203.6 493.6,206.4 V215.8 Z" fill="#767e92"/>
<ellipse cx="478.0" cy="209.8" rx="2" ry="2.9" fill="#3e4a60"/>
<ellipse cx="483.8" cy="209.8" rx="2" ry="2.9" fill="#3e4a60"/>
<ellipse cx="489.6" cy="209.8" rx="2" ry="2.9" fill="#3e4a60"/>
<rect x="473.6" y="213.8" width="20.4" height="4.2" fill="#5c7aa2" />
<line x1="476.0" y1="215.70000000000002" x2="492.0" y2="215.70000000000002" stroke="#e4e8f0" stroke-width="1" stroke-dasharray="2.4 1.4"/>
<path d="M473.6,198.4 V218.0 M494.0,198.4 V218.0" fill="none" stroke="#56749a" stroke-width="1.6"/>
<path d="M506.59999999999997,86.5 V69.6 H509.7 V86.5" fill="#fbfbfd" stroke="#bcbcd8" stroke-width="0.9"/>
<line x1="506.4" y1="69.6" x2="509.9" y2="69.6" stroke="#9c9cbc" stroke-width="1.1" stroke-linecap="butt"/>
<path d="M532.5,86.5 V69.6 H535.6 V86.5" fill="#fbfbfd" stroke="#bcbcd8" stroke-width="0.9"/>
<line x1="532.3" y1="69.6" x2="535.8" y2="69.6" stroke="#9c9cbc" stroke-width="1.1" stroke-linecap="butt"/>
<rect x="505.59999999999997" y="110.6" width="30.8" height="4.4" fill="#ead0da" />
<rect x="507.2" y="86" width="27" height="25.8" fill="#d0667e" />
<rect x="507.2" y="103.6" width="27" height="8.2" fill="#d85c72" />
<path d="M510.8,89.4 H532.0 V99.4 Q532.0,101.8 529.6,101.8 H513.2 Q510.8,101.8 510.8,99.4 Z" fill="#82869a"/>
<ellipse cx="514.4" cy="96" rx="1.9" ry="3" fill="#3c4a60"/>
<ellipse cx="521.1" cy="96" rx="1.9" ry="3" fill="#3c4a60"/>
<ellipse cx="527.8" cy="96" rx="1.9" ry="3" fill="#3c4a60"/>
<line x1="511.8" y1="102.8" x2="531.2" y2="102.8" stroke="#ecd0da" stroke-width="0.9" stroke-dasharray="2.2 1.2" opacity="0.7"/>
<path d="M510.2,104.2 L513.6,105.80000000000001 L515.0,103.60000000000001 L516.4,105.80000000000001 L519.8,104.2 L517.6,107.4 L519.8,110.80000000000001 L516.4,109.4 L515.0,111.0 L513.6,109.4 L510.2,110.80000000000001 L512.4,107.4 Z" fill="#a80818" stroke="#a80818" stroke-width="0.9" stroke-linejoin="round"/>
<ellipse cx="515.0" cy="107.60000000000001" rx="2.6" ry="1.9" fill="#9c0614"/>
<path d="M521.4000000000001,104.2 L524.8000000000001,105.80000000000001 L526.2,103.60000000000001 L527.6,105.80000000000001 L531.0,104.2 L528.8000000000001,107.4 L531.0,110.80000000000001 L527.6,109.4 L526.2,111.0 L524.8000000000001,109.4 L521.4000000000001,110.80000000000001 L523.6,107.4 Z" fill="#a80818" stroke="#a80818" stroke-width="0.9" stroke-linejoin="round"/>
<ellipse cx="526.2" cy="107.60000000000001" rx="2.6" ry="1.9" fill="#9c0614"/>
<path d="M506.59999999999997,157.5 V140.6 H509.7 V157.5" fill="#fbfbfd" stroke="#bcbcd8" stroke-width="0.9"/>
<line x1="506.4" y1="140.6" x2="509.9" y2="140.6" stroke="#9c9cbc" stroke-width="1.1" stroke-linecap="butt"/>
<path d="M532.5,157.5 V140.6 H535.6 V157.5" fill="#fbfbfd" stroke="#bcbcd8" stroke-width="0.9"/>
<line x1="532.3" y1="140.6" x2="535.8" y2="140.6" stroke="#9c9cbc" stroke-width="1.1" stroke-linecap="butt"/>
<rect x="505.59999999999997" y="181.6" width="30.8" height="4.4" fill="#ead0da" />
<rect x="507.2" y="157" width="27" height="25.8" fill="#d0667e" />
<path d="M510.8,160.4 H532.0 V170.4 Q532.0,172.8 529.6,172.8 H513.2 Q510.8,172.8 510.8,170.4 Z" fill="#82869a"/>
<ellipse cx="514.4" cy="167" rx="1.9" ry="3" fill="#3c4a60"/>
<ellipse cx="521.1" cy="167" rx="1.9" ry="3" fill="#3c4a60"/>
<ellipse cx="527.8" cy="167" rx="1.9" ry="3" fill="#3c4a60"/>
<line x1="511.8" y1="173.8" x2="531.2" y2="173.8" stroke="#ecd0da" stroke-width="0.9" stroke-dasharray="2.2 1.2" opacity="0.7"/>
<rect x="509.8" y="175.4" width="22.2" height="6" fill="#b08450" />
<circle cx="514.0" cy="178.5" r="2.3" fill="#5ae010"/>
<circle cx="514.0" cy="178.5" r="1" fill="#98f040"/>
<circle cx="521.0" cy="178.5" r="2.3" fill="#5ae010"/>
<circle cx="521.0" cy="178.5" r="1" fill="#98f040"/>
<circle cx="527.8" cy="178.5" r="2.3" fill="#5ae010"/>
<circle cx="527.8" cy="178.5" r="1" fill="#98f040"/>
<path d="M511.6,215.8 V206.4 Q514.8000000000001,203.6 518.0,206.4 Q521.4,203.6 524.8000000000001,206.4 Q528.0,203.6 531.2,206.4 V215.8 Z" fill="#767e92"/>
<ellipse cx="515.6" cy="209.8" rx="2" ry="2.9" fill="#3e4a60"/>
<ellipse cx="521.4" cy="209.8" rx="2" ry="2.9" fill="#3e4a60"/>
<ellipse cx="527.2" cy="209.8" rx="2" ry="2.9" fill="#3e4a60"/>
<rect x="511.20000000000005" y="213.8" width="20.4" height="4.2" fill="#5c7aa2" />
<line x1="513.6" y1="215.70000000000002" x2="529.6" y2="215.70000000000002" stroke="#e4e8f0" stroke-width="1" stroke-dasharray="2.4 1.4"/>
<path d="M511.20000000000005,198.4 V218.0 M531.6,198.4 V218.0" fill="none" stroke="#56749a" stroke-width="1.6"/>
<path d="M544.6999999999999,86.5 V69.6 H547.8 V86.5" fill="#fbfbfd" stroke="#bcbcd8" stroke-width="0.9"/>
<line x1="544.4999999999999" y1="69.6" x2="547.9999999999999" y2="69.6" stroke="#9c9cbc" stroke-width="1.1" stroke-linecap="butt"/>
<path d="M570.5999999999999,86.5 V69.6 H573.6999999999999 V86.5" fill="#fbfbfd" stroke="#bcbcd8" stroke-width="0.9"/>
<line x1="570.3999999999999" y1="69.6" x2="573.8999999999999" y2="69.6" stroke="#9c9cbc" stroke-width="1.1" stroke-linecap="butt"/>
<rect x="543.6999999999999" y="110.6" width="30.8" height="4.4" fill="#ead0da" />
<rect x="545.3" y="86" width="27" height="25.8" fill="#d0667e" />
<rect x="545.3" y="103.6" width="27" height="8.2" fill="#d85c72" />
<path d="M548.9,89.4 H570.0999999999999 V99.4 Q570.0999999999999,101.8 567.6999999999999,101.8 H551.3 Q548.9,101.8 548.9,99.4 Z" fill="#82869a"/>
<ellipse cx="552.5" cy="96" rx="1.9" ry="3" fill="#3c4a60"/>
<ellipse cx="559.1999999999999" cy="96" rx="1.9" ry="3" fill="#3c4a60"/>
<ellipse cx="565.9" cy="96" rx="1.9" ry="3" fill="#3c4a60"/>
<line x1="549.9" y1="102.8" x2="569.3" y2="102.8" stroke="#ecd0da" stroke-width="0.9" stroke-dasharray="2.2 1.2" opacity="0.7"/>
<path d="M548.3,104.2 L551.6999999999999,105.80000000000001 L553.0999999999999,103.60000000000001 L554.4999999999999,105.80000000000001 L557.8999999999999,104.2 L555.6999999999999,107.4 L557.8999999999999,110.80000000000001 L554.4999999999999,109.4 L553.0999999999999,111.0 L551.6999999999999,109.4 L548.3,110.80000000000001 L550.4999999999999,107.4 Z" fill="#a80818" stroke="#a80818" stroke-width="0.9" stroke-linejoin="round"/>
<ellipse cx="553.0999999999999" cy="107.60000000000001" rx="2.6" ry="1.9" fill="#9c0614"/>
<path d="M559.5,104.2 L562.9,105.80000000000001 L564.3,103.60000000000001 L565.6999999999999,105.80000000000001 L569.0999999999999,104.2 L566.9,107.4 L569.0999999999999,110.80000000000001 L565.6999999999999,109.4 L564.3,111.0 L562.9,109.4 L559.5,110.80000000000001 L561.6999999999999,107.4 Z" fill="#a80818" stroke="#a80818" stroke-width="0.9" stroke-linejoin="round"/>
<ellipse cx="564.3" cy="107.60000000000001" rx="2.6" ry="1.9" fill="#9c0614"/>
<path d="M544.6999999999999,157.5 V140.6 H547.8 V157.5" fill="#fbfbfd" stroke="#bcbcd8" stroke-width="0.9"/>
<line x1="544.4999999999999" y1="140.6" x2="547.9999999999999" y2="140.6" stroke="#9c9cbc" stroke-width="1.1" stroke-linecap="butt"/>
<path d="M570.5999999999999,157.5 V140.6 H573.6999999999999 V157.5" fill="#fbfbfd" stroke="#bcbcd8" stroke-width="0.9"/>
<line x1="570.3999999999999" y1="140.6" x2="573.8999999999999" y2="140.6" stroke="#9c9cbc" stroke-width="1.1" stroke-linecap="butt"/>
<rect x="543.6999999999999" y="181.6" width="30.8" height="4.4" fill="#ead0da" />
<rect x="545.3" y="157" width="27" height="25.8" fill="#d0667e" />
<path d="M548.9,160.4 H570.0999999999999 V170.4 Q570.0999999999999,172.8 567.6999999999999,172.8 H551.3 Q548.9,172.8 548.9,170.4 Z" fill="#82869a"/>
<ellipse cx="552.5" cy="167" rx="1.9" ry="3" fill="#3c4a60"/>
<ellipse cx="559.1999999999999" cy="167" rx="1.9" ry="3" fill="#3c4a60"/>
<ellipse cx="565.9" cy="167" rx="1.9" ry="3" fill="#3c4a60"/>
<line x1="549.9" y1="173.8" x2="569.3" y2="173.8" stroke="#ecd0da" stroke-width="0.9" stroke-dasharray="2.2 1.2" opacity="0.7"/>
<path d="M550.1,215.8 V206.4 Q553.3000000000001,203.6 556.5,206.4 Q559.9,203.6 563.3000000000001,206.4 Q566.5,203.6 569.7,206.4 V215.8 Z" fill="#767e92"/>
<ellipse cx="554.1" cy="209.8" rx="2" ry="2.9" fill="#3e4a60"/>
<ellipse cx="559.9" cy="209.8" rx="2" ry="2.9" fill="#3e4a60"/>
<ellipse cx="565.7" cy="209.8" rx="2" ry="2.9" fill="#3e4a60"/>
<rect x="549.7" y="213.8" width="20.4" height="4.2" fill="#5c7aa2" />
<line x1="552.1" y1="215.70000000000002" x2="568.1" y2="215.70000000000002" stroke="#e4e8f0" stroke-width="1" stroke-dasharray="2.4 1.4"/>
<path d="M549.7,198.4 V218.0 M570.1,198.4 V218.0" fill="none" stroke="#56749a" stroke-width="1.6"/>
<path d="M583.0,86.5 V69.6 H586.1 V86.5" fill="#fbfbfd" stroke="#bcbcd8" stroke-width="0.9"/>
<line x1="582.8" y1="69.6" x2="586.3" y2="69.6" stroke="#9c9cbc" stroke-width="1.1" stroke-linecap="butt"/>
<path d="M608.9,86.5 V69.6 H612.0 V86.5" fill="#fbfbfd" stroke="#bcbcd8" stroke-width="0.9"/>
<line x1="608.6999999999999" y1="69.6" x2="612.1999999999999" y2="69.6" stroke="#9c9cbc" stroke-width="1.1" stroke-linecap="butt"/>
<rect x="582.0" y="110.6" width="30.8" height="4.4" fill="#ead0da" />
<rect x="583.6" y="86" width="27" height="25.8" fill="#d0667e" />
<rect x="583.6" y="103.6" width="27" height="8.2" fill="#d85c72" />
<path d="M587.2,89.4 H608.4 V99.4 Q608.4,101.8 606.0,101.8 H589.6 Q587.2,101.8 587.2,99.4 Z" fill="#82869a"/>
<ellipse cx="590.8000000000001" cy="96" rx="1.9" ry="3" fill="#3c4a60"/>
<ellipse cx="597.5" cy="96" rx="1.9" ry="3" fill="#3c4a60"/>
<ellipse cx="604.2" cy="96" rx="1.9" ry="3" fill="#3c4a60"/>
<line x1="588.2" y1="102.8" x2="607.6" y2="102.8" stroke="#ecd0da" stroke-width="0.9" stroke-dasharray="2.2 1.2" opacity="0.7"/>
<path d="M586.6,104.2 L590.0,105.80000000000001 L591.4,103.60000000000001 L592.8,105.80000000000001 L596.1999999999999,104.2 L594.0,107.4 L596.1999999999999,110.80000000000001 L592.8,109.4 L591.4,111.0 L590.0,109.4 L586.6,110.80000000000001 L588.8,107.4 Z" fill="#a80818" stroke="#a80818" stroke-width="0.9" stroke-linejoin="round"/>
<ellipse cx="591.4" cy="107.60000000000001" rx="2.6" ry="1.9" fill="#9c0614"/>
<path d="M597.8000000000001,104.2 L601.2,105.80000000000001 L602.6,103.60000000000001 L604.0,105.80000000000001 L607.4,104.2 L605.2,107.4 L607.4,110.80000000000001 L604.0,109.4 L602.6,111.0 L601.2,109.4 L597.8000000000001,110.80000000000001 L600.0,107.4 Z" fill="#a80818" stroke="#a80818" stroke-width="0.9" stroke-linejoin="round"/>
<ellipse cx="602.6" cy="107.60000000000001" rx="2.6" ry="1.9" fill="#9c0614"/>
<path d="M583.0,157.5 V140.6 H586.1 V157.5" fill="#fbfbfd" stroke="#bcbcd8" stroke-width="0.9"/>
<line x1="582.8" y1="140.6" x2="586.3" y2="140.6" stroke="#9c9cbc" stroke-width="1.1" stroke-linecap="butt"/>
<path d="M608.9,157.5 V140.6 H612.0 V157.5" fill="#fbfbfd" stroke="#bcbcd8" stroke-width="0.9"/>
<line x1="608.6999999999999" y1="140.6" x2="612.1999999999999" y2="140.6" stroke="#9c9cbc" stroke-width="1.1" stroke-linecap="butt"/>
<rect x="582.0" y="181.6" width="30.8" height="4.4" fill="#ead0da" />
<rect x="583.6" y="157" width="27" height="25.8" fill="#d0667e" />
<path d="M587.2,160.4 H608.4 V170.4 Q608.4,172.8 606.0,172.8 H589.6 Q587.2,172.8 587.2,170.4 Z" fill="#82869a"/>
<ellipse cx="590.8000000000001" cy="167" rx="1.9" ry="3" fill="#3c4a60"/>
<ellipse cx="597.5" cy="167" rx="1.9" ry="3" fill="#3c4a60"/>
<ellipse cx="604.2" cy="167" rx="1.9" ry="3" fill="#3c4a60"/>
<line x1="588.2" y1="173.8" x2="607.6" y2="173.8" stroke="#ecd0da" stroke-width="0.9" stroke-dasharray="2.2 1.2" opacity="0.7"/>
<rect x="586.2" y="175.4" width="22.2" height="6" fill="#b08450" />
<circle cx="590.4" cy="178.5" r="2.3" fill="#5ae010"/>
<circle cx="590.4" cy="178.5" r="1" fill="#98f040"/>
<circle cx="597.4" cy="178.5" r="2.3" fill="#5ae010"/>
<circle cx="597.4" cy="178.5" r="1" fill="#98f040"/>
<circle cx="604.2" cy="178.5" r="2.3" fill="#5ae010"/>
<circle cx="604.2" cy="178.5" r="1" fill="#98f040"/>
<path d="M586.0,215.8 V206.4 Q589.2,203.6 592.4,206.4 Q595.8,203.6 599.2,206.4 Q602.4,203.6 605.6,206.4 V215.8 Z" fill="#767e92"/>
<ellipse cx="590.0" cy="209.8" rx="2" ry="2.9" fill="#3e4a60"/>
<ellipse cx="595.8" cy="209.8" rx="2" ry="2.9" fill="#3e4a60"/>
<ellipse cx="601.6" cy="209.8" rx="2" ry="2.9" fill="#3e4a60"/>
<rect x="585.6" y="213.8" width="20.4" height="4.2" fill="#5c7aa2" />
<line x1="588.0" y1="215.70000000000002" x2="604.0" y2="215.70000000000002" stroke="#e4e8f0" stroke-width="1" stroke-dasharray="2.4 1.4"/>
<path d="M585.6,198.4 V218.0 M606.0,198.4 V218.0" fill="none" stroke="#56749a" stroke-width="1.6"/>
<polyline points="494.29999999999995,90.6 502.2,90.6 502.2,96.6" fill="none" stroke="#2c3030" stroke-width="1.9" stroke-linejoin="miter" stroke-linecap="butt"/>
<polyline points="494.29999999999995,94.19999999999999 500.2,94.19999999999999 500.2,96.6" fill="none" stroke="#2c3030" stroke-width="1.7" stroke-linejoin="miter" stroke-linecap="butt"/>
<line x1="501.2" y1="95.1" x2="501.2" y2="140.6" stroke="#2c3030" stroke-width="3" stroke-linecap="butt"/>
<path d="M498.0,138.79999999999998 L501.2,140.6 L504.4,138.79999999999998 L501.2,144.6 Z" fill="#2c3030"/>
<polyline points="493.69999999999993,157.2 501.8,157.2 501.8,163.2" fill="none" stroke="#2c3030" stroke-width="1.9" stroke-linejoin="miter" stroke-linecap="butt"/>
<polyline points="493.69999999999993,160.79999999999998 499.8,160.79999999999998 499.8,163.2" fill="none" stroke="#2c3030" stroke-width="1.7" stroke-linejoin="miter" stroke-linecap="butt"/>
<line x1="500.8" y1="161.7" x2="500.8" y2="207.6" stroke="#2c3030" stroke-width="3" stroke-linecap="butt"/>
<path d="M497.6,205.79999999999998 L500.8,207.6 L504.0,205.79999999999998 L500.8,211.6 Z" fill="#2c3030"/>
<polyline points="532.6,90.6 540.5,90.6 540.5,96.6" fill="none" stroke="#2c3030" stroke-width="1.9" stroke-linejoin="miter" stroke-linecap="butt"/>
<polyline points="532.6,94.19999999999999 538.5,94.19999999999999 538.5,96.6" fill="none" stroke="#2c3030" stroke-width="1.7" stroke-linejoin="miter" stroke-linecap="butt"/>
<line x1="539.5" y1="95.1" x2="539.5" y2="140.6" stroke="#2c3030" stroke-width="3" stroke-linecap="butt"/>
<path d="M536.3,138.79999999999998 L539.5,140.6 L542.7,138.79999999999998 L539.5,144.6 Z" fill="#2c3030"/>
<polyline points="532.0,157.2 540.1,157.2 540.1,163.2" fill="none" stroke="#2c3030" stroke-width="1.9" stroke-linejoin="miter" stroke-linecap="butt"/>
<polyline points="532.0,160.79999999999998 538.1,160.79999999999998 538.1,163.2" fill="none" stroke="#2c3030" stroke-width="1.7" stroke-linejoin="miter" stroke-linecap="butt"/>
<line x1="539.1" y1="161.7" x2="539.1" y2="207.6" stroke="#2c3030" stroke-width="3" stroke-linecap="butt"/>
<path d="M535.9,205.79999999999998 L539.1,207.6 L542.3000000000001,205.79999999999998 L539.1,211.6 Z" fill="#2c3030"/>
<polyline points="570.6999999999999,90.6 578.5999999999999,90.6 578.5999999999999,96.6" fill="none" stroke="#2c3030" stroke-width="1.9" stroke-linejoin="miter" stroke-linecap="butt"/>
<polyline points="570.6999999999999,94.19999999999999 576.5999999999999,94.19999999999999 576.5999999999999,96.6" fill="none" stroke="#2c3030" stroke-width="1.7" stroke-linejoin="miter" stroke-linecap="butt"/>
<line x1="577.5999999999999" y1="95.1" x2="577.5999999999999" y2="140.6" stroke="#2c3030" stroke-width="3" stroke-linecap="butt"/>
<path d="M574.3999999999999,138.79999999999998 L577.5999999999999,140.6 L580.8,138.79999999999998 L577.5999999999999,144.6 Z" fill="#2c3030"/>
<polyline points="570.0999999999999,157.2 578.1999999999999,157.2 578.1999999999999,163.2" fill="none" stroke="#2c3030" stroke-width="1.9" stroke-linejoin="miter" stroke-linecap="butt"/>
<polyline points="570.0999999999999,160.79999999999998 576.1999999999999,160.79999999999998 576.1999999999999,163.2" fill="none" stroke="#2c3030" stroke-width="1.7" stroke-linejoin="miter" stroke-linecap="butt"/>
<line x1="577.1999999999999" y1="161.7" x2="577.1999999999999" y2="207.6" stroke="#2c3030" stroke-width="3" stroke-linecap="butt"/>
<path d="M573.9999999999999,205.79999999999998 L577.1999999999999,207.6 L580.4,205.79999999999998 L577.1999999999999,211.6 Z" fill="#2c3030"/>
<polyline points="609.0,90.6 616.9,90.6 616.9,96.6" fill="none" stroke="#2c3030" stroke-width="1.9" stroke-linejoin="miter" stroke-linecap="butt"/>
<polyline points="609.0,94.19999999999999 614.9,94.19999999999999 614.9,96.6" fill="none" stroke="#2c3030" stroke-width="1.7" stroke-linejoin="miter" stroke-linecap="butt"/>
<line x1="615.9" y1="95.1" x2="615.9" y2="140.6" stroke="#2c3030" stroke-width="3" stroke-linecap="butt"/>
<path d="M612.6999999999999,138.79999999999998 L615.9,140.6 L619.1,138.79999999999998 L615.9,144.6 Z" fill="#2c3030"/>
<polyline points="608.4,157.2 616.5,157.2 616.5,163.2" fill="none" stroke="#2c3030" stroke-width="1.9" stroke-linejoin="miter" stroke-linecap="butt"/>
<polyline points="608.4,160.79999999999998 614.5,160.79999999999998 614.5,163.2" fill="none" stroke="#2c3030" stroke-width="1.7" stroke-linejoin="miter" stroke-linecap="butt"/>
<line x1="615.5" y1="161.7" x2="615.5" y2="207.6" stroke="#2c3030" stroke-width="3" stroke-linecap="butt"/>
<path d="M612.3,205.79999999999998 L615.5,207.6 L618.7,205.79999999999998 L615.5,211.6 Z" fill="#2c3030"/>
<text x="429" y="261.2" font-size="16.2" font-weight="bold" text-anchor="start" fill="#000"  style="">Line</text>
<text x="483.5" y="261.2" font-size="16.2" font-weight="bold" text-anchor="middle" fill="#000"  style="">1</text>
<text x="521.6" y="261.2" font-size="16.2" font-weight="bold" text-anchor="middle" fill="#000"  style="">2</text>
<text x="558" y="261.2" font-size="16.2" font-weight="bold" text-anchor="middle" fill="#000"  style="">3</text>
<text x="596" y="261.2" font-size="16.2" font-weight="bold" text-anchor="middle" fill="#000"  style="">4</text>
<text x="463.6" y="281.6" font-size="17" font-weight="bold" text-anchor="end" fill="#000"  style="">MMP-9</text>
<text x="463.6" y="302.2" font-size="17" font-weight="bold" text-anchor="end"><tspan font-weight="normal" font-size="18.5">β</tspan>-actin</text>
<g clip-path="url(#c1c)"><clipPath id="c1c"><rect x="465.6" y="265.1" width="148.5" height="21.4"/></clipPath>
<rect x="465.6" y="265.1" width="148.5" height="21.4" fill="#c6c6c6" />
<g filter="url(#blur1)">
<rect x="467.75" y="267.5" width="31.5" height="13" rx="2.6" fill="#8a8a8a" opacity="0.45"/>
<rect x="468.75" y="270.3" width="29.5" height="7" rx="2.6" fill="#555" opacity="0"/>
<rect x="468.75" y="267.9" width="29.5" height="4.2" rx="2.1" fill="#444" opacity="0.45"/>
<rect x="468.75" y="275.09999999999997" width="29.5" height="5.2" rx="2.6" fill="#111" opacity="0.35"/>
<rect x="506.0" y="267.5" width="31" height="13" rx="2.6" fill="#8a8a8a" opacity="0.45"/>
<rect x="507.0" y="270.3" width="29" height="7" rx="2.6" fill="#555" opacity="0.25"/>
<rect x="507.0" y="267.9" width="29" height="4.2" rx="2.1" fill="#444" opacity="0.75"/>
<rect x="507.0" y="275.09999999999997" width="29" height="5.2" rx="2.6" fill="#111" opacity="0.95"/>
<rect x="541.75" y="267.5" width="31.5" height="13" rx="2.6" fill="#8a8a8a" opacity="0.45"/>
<rect x="542.75" y="270.3" width="29.5" height="7" rx="2.6" fill="#555" opacity="0.1"/>
<rect x="542.75" y="267.9" width="29.5" height="4.2" rx="2.1" fill="#444" opacity="0.65"/>
<rect x="542.75" y="275.09999999999997" width="29.5" height="5.2" rx="2.6" fill="#111" opacity="0.5"/>
<rect x="578.5" y="267.5" width="32" height="13" rx="2.6" fill="#8a8a8a" opacity="0.45"/>
<rect x="579.5" y="270.3" width="30" height="7" rx="2.6" fill="#555" opacity="0.6"/>
<rect x="579.5" y="267.9" width="30" height="4.2" rx="2.1" fill="#1a1a1a" opacity="1.0"/>
<rect x="579.5" y="275.09999999999997" width="30" height="5.2" rx="2.6" fill="#050505" opacity="1.0"/>
</g></g>
<g clip-path="url(#c2c)"><clipPath id="c2c"><rect x="465.6" y="290.6" width="148.5" height="14.5"/></clipPath>
<rect x="465.6" y="290.6" width="148.5" height="14.5" fill="#b4b4b4" />
<g filter="url(#blur1)">
<rect x="468.5" y="294.90000000000003" width="30" height="6.4" rx="2.6" fill="#020202" opacity="1"/>
<rect x="506.75" y="294.90000000000003" width="29.5" height="6.4" rx="2.6" fill="#020202" opacity="1"/>
<rect x="542.75" y="294.90000000000003" width="30.5" height="6.4" rx="2.6" fill="#020202" opacity="1"/>
<rect x="580.8" y="294.90000000000003" width="31" height="6.4" rx="2.6" fill="#020202" opacity="1"/>
</g></g>
<text transform="translate(434.0,472.0) rotate(-90)" font-size="17.35" font-weight="bold">Relative intensity</text>
<rect x="469.7" y="423.0" width="26.100000000000023" height="54.60000000000002" fill="#a00000" />
<line x1="520.4" y1="392.8" x2="520.4" y2="406.7" stroke="#ff6600" stroke-width="2" stroke-linecap="butt"/>
<line x1="514.4" y1="392.8" x2="526.4" y2="392.8" stroke="#ff6600" stroke-width="2.5" stroke-linecap="butt"/>
<rect x="507.2" y="405.7" width="26.400000000000034" height="71.90000000000003" fill="#ff6600" />
<line x1="557.75" y1="419.6" x2="557.75" y2="431.7" stroke="#c4c412" stroke-width="2" stroke-linecap="butt"/>
<line x1="551.75" y1="419.6" x2="563.75" y2="419.6" stroke="#c4c412" stroke-width="2.5" stroke-linecap="butt"/>
<rect x="544.7" y="430.7" width="26.09999999999991" height="46.900000000000034" fill="#c4c412" />
<line x1="595.5" y1="362.3" x2="595.5" y2="376.1" stroke="#008000" stroke-width="2" stroke-linecap="butt"/>
<line x1="589.5" y1="362.3" x2="601.5" y2="362.3" stroke="#008000" stroke-width="2.5" stroke-linecap="butt"/>
<rect x="582.6" y="375.1" width="25.799999999999955" height="102.5" fill="#008000" />
<line x1="464.5" y1="357" x2="464.5" y2="478.7" stroke="#000" stroke-width="2.2" stroke-linecap="butt"/>
<line x1="462" y1="477.7" x2="615" y2="477.7" stroke="#000" stroke-width="2.4" stroke-linecap="butt"/>
<line x1="460.6" y1="369.2" x2="464.5" y2="369.2" stroke="#000" stroke-width="2" stroke-linecap="butt"/>
<text x="460.6" y="374.3" font-size="14" font-weight="bold" text-anchor="end" fill="#000"  style="">2.0</text>
<line x1="460.6" y1="396.3" x2="464.5" y2="396.3" stroke="#000" stroke-width="2" stroke-linecap="butt"/>
<text x="460.6" y="401.40000000000003" font-size="14" font-weight="bold" text-anchor="end" fill="#000"  style="">1.5</text>
<line x1="460.6" y1="423.4" x2="464.5" y2="423.4" stroke="#000" stroke-width="2" stroke-linecap="butt"/>
<text x="460.6" y="428.5" font-size="14" font-weight="bold" text-anchor="end" fill="#000"  style="">1.0</text>
<line x1="460.6" y1="450.5" x2="464.5" y2="450.5" stroke="#000" stroke-width="2" stroke-linecap="butt"/>
<text x="460.6" y="455.6" font-size="14" font-weight="bold" text-anchor="end" fill="#000"  style="">0.5</text>
<line x1="460.6" y1="477.6" x2="464.5" y2="477.6" stroke="#000" stroke-width="2" stroke-linecap="butt"/>
<text x="460.6" y="482.70000000000005" font-size="14" font-weight="bold" text-anchor="end" fill="#000"  style="">0.0</text>
<line x1="482.75" y1="477.7" x2="482.75" y2="481.6" stroke="#000" stroke-width="2" stroke-linecap="butt"/>
<line x1="520.4" y1="477.7" x2="520.4" y2="481.6" stroke="#000" stroke-width="2" stroke-linecap="butt"/>
<line x1="557.75" y1="477.7" x2="557.75" y2="481.6" stroke="#000" stroke-width="2" stroke-linecap="butt"/>
<line x1="595.5" y1="477.7" x2="595.5" y2="481.6" stroke="#000" stroke-width="2" stroke-linecap="butt"/>
<polyline points="482.2,388.4 482.2,320.6 595.8,320.6 595.8,353.8" fill="none" stroke="#000" stroke-width="2.5" stroke-linejoin="miter" stroke-linecap="butt"/>
<polyline points="520.4,388.4 520.4,337 595.8,337" fill="none" stroke="#000" stroke-width="2.5" stroke-linejoin="miter" stroke-linecap="butt"/>
<polyline points="557.6,388.4 557.6,350.2 595.8,350.2" fill="none" stroke="#000" stroke-width="2.5" stroke-linejoin="miter" stroke-linecap="butt"/>
<g transform="translate(539.5,315.2)" fill="#000">
<path d="M-0.24,0 C-0.33599999999999997,-1.44 -1.128,-2.784 -1.128,-3.672 A1.128,1.128 0 1 1 1.128,-3.672 C1.128,-2.784 0.33599999999999997,-1.44 0.24,0 Z" transform="rotate(0)"/>
<path d="M-0.24,0 C-0.33599999999999997,-1.44 -1.128,-2.784 -1.128,-3.672 A1.128,1.128 0 1 1 1.128,-3.672 C1.128,-2.784 0.33599999999999997,-1.44 0.24,0 Z" transform="rotate(60)"/>
<path d="M-0.24,0 C-0.33599999999999997,-1.44 -1.128,-2.784 -1.128,-3.672 A1.128,1.128 0 1 1 1.128,-3.672 C1.128,-2.784 0.33599999999999997,-1.44 0.24,0 Z" transform="rotate(120)"/>
<path d="M-0.24,0 C-0.33599999999999997,-1.44 -1.128,-2.784 -1.128,-3.672 A1.128,1.128 0 1 1 1.128,-3.672 C1.128,-2.784 0.33599999999999997,-1.44 0.24,0 Z" transform="rotate(180)"/>
<path d="M-0.24,0 C-0.33599999999999997,-1.44 -1.128,-2.784 -1.128,-3.672 A1.128,1.128 0 1 1 1.128,-3.672 C1.128,-2.784 0.33599999999999997,-1.44 0.24,0 Z" transform="rotate(240)"/>
<path d="M-0.24,0 C-0.33599999999999997,-1.44 -1.128,-2.784 -1.128,-3.672 A1.128,1.128 0 1 1 1.128,-3.672 C1.128,-2.784 0.33599999999999997,-1.44 0.24,0 Z" transform="rotate(300)"/>
<circle r="0.528"/>
</g>
<g transform="translate(558.6,330.4)" fill="#000">
<path d="M-0.24,0 C-0.33599999999999997,-1.44 -1.128,-2.784 -1.128,-3.672 A1.128,1.128 0 1 1 1.128,-3.672 C1.128,-2.784 0.33599999999999997,-1.44 0.24,0 Z" transform="rotate(0)"/>
<path d="M-0.24,0 C-0.33599999999999997,-1.44 -1.128,-2.784 -1.128,-3.672 A1.128,1.128 0 1 1 1.128,-3.672 C1.128,-2.784 0.33599999999999997,-1.44 0.24,0 Z" transform="rotate(60)"/>
<path d="M-0.24,0 C-0.33599999999999997,-1.44 -1.128,-2.784 -1.128,-3.672 A1.128,1.128 0 1 1 1.128,-3.672 C1.128,-2.784 0.33599999999999997,-1.44 0.24,0 Z" transform="rotate(120)"/>
<path d="M-0.24,0 C-0.33599999999999997,-1.44 -1.128,-2.784 -1.128,-3.672 A1.128,1.128 0 1 1 1.128,-3.672 C1.128,-2.784 0.33599999999999997,-1.44 0.24,0 Z" transform="rotate(180)"/>
<path d="M-0.24,0 C-0.33599999999999997,-1.44 -1.128,-2.784 -1.128,-3.672 A1.128,1.128 0 1 1 1.128,-3.672 C1.128,-2.784 0.33599999999999997,-1.44 0.24,0 Z" transform="rotate(240)"/>
<path d="M-0.24,0 C-0.33599999999999997,-1.44 -1.128,-2.784 -1.128,-3.672 A1.128,1.128 0 1 1 1.128,-3.672 C1.128,-2.784 0.33599999999999997,-1.44 0.24,0 Z" transform="rotate(300)"/>
<circle r="0.528"/>
</g>
<g transform="translate(576.7,344.6)" fill="#000">
<path d="M-0.24,0 C-0.33599999999999997,-1.44 -1.128,-2.784 -1.128,-3.672 A1.128,1.128 0 1 1 1.128,-3.672 C1.128,-2.784 0.33599999999999997,-1.44 0.24,0 Z" transform="rotate(0)"/>
<path d="M-0.24,0 C-0.33599999999999997,-1.44 -1.128,-2.784 -1.128,-3.672 A1.128,1.128 0 1 1 1.128,-3.672 C1.128,-2.784 0.33599999999999997,-1.44 0.24,0 Z" transform="rotate(60)"/>
<path d="M-0.24,0 C-0.33599999999999997,-1.44 -1.128,-2.784 -1.128,-3.672 A1.128,1.128 0 1 1 1.128,-3.672 C1.128,-2.784 0.33599999999999997,-1.44 0.24,0 Z" transform="rotate(120)"/>
<path d="M-0.24,0 C-0.33599999999999997,-1.44 -1.128,-2.784 -1.128,-3.672 A1.128,1.128 0 1 1 1.128,-3.672 C1.128,-2.784 0.33599999999999997,-1.44 0.24,0 Z" transform="rotate(180)"/>
<path d="M-0.24,0 C-0.33599999999999997,-1.44 -1.128,-2.784 -1.128,-3.672 A1.128,1.128 0 1 1 1.128,-3.672 C1.128,-2.784 0.33599999999999997,-1.44 0.24,0 Z" transform="rotate(240)"/>
<path d="M-0.24,0 C-0.33599999999999997,-1.44 -1.128,-2.784 -1.128,-3.672 A1.128,1.128 0 1 1 1.128,-3.672 C1.128,-2.784 0.33599999999999997,-1.44 0.24,0 Z" transform="rotate(300)"/>
<circle r="0.528"/>
</g>
<rect x="361.4" y="531.8" width="259.8" height="43.6" fill="#b6b6b6" />
<rect x="361.7" y="485.4" width="257.6" height="69.2" fill="none" stroke="#000" stroke-width="2.2"/>
<text x="466.8" y="502.5" font-size="17.5" font-weight="bold" text-anchor="end" fill="#000"  style="">BLM</text>
<rect x="474.1" y="493.9" width="11.4" height="3" fill="#000" />
<rect x="512.6999999999999" y="493.9" width="11.4" height="3" fill="#000" />
<rect x="552.0" y="490.95" width="9.6" height="2.9" fill="#000" />
<rect x="555.3499999999999" y="487.59999999999997" width="2.9" height="9.6" fill="#000" />
<rect x="590.0" y="490.95" width="9.6" height="2.9" fill="#000" />
<rect x="593.3499999999999" y="487.59999999999997" width="2.9" height="9.6" fill="#000" />
<text x="466.8" y="525.3" font-size="17.5" font-weight="bold" text-anchor="end" fill="#000"  style="">Fibroblast</text>
<rect x="475.0" y="515.4499999999999" width="9.6" height="2.9" fill="#000" />
<rect x="478.35" y="512.1" width="2.9" height="9.6" fill="#000" />
<rect x="513.6" y="515.4499999999999" width="9.6" height="2.9" fill="#000" />
<rect x="516.9499999999999" y="512.1" width="2.9" height="9.6" fill="#000" />
<rect x="552.0" y="515.4499999999999" width="9.6" height="2.9" fill="#000" />
<rect x="555.3499999999999" y="512.1" width="2.9" height="9.6" fill="#000" />
<rect x="590.0" y="515.4499999999999" width="9.6" height="2.9" fill="#000" />
<rect x="593.3499999999999" y="512.1" width="2.9" height="9.6" fill="#000" />
<text x="466.8" y="548.3" font-size="17.5" font-weight="bold" text-anchor="end" fill="#000"  style="">Macrophage</text>
<rect x="475.0" y="540.3499999999999" width="9.6" height="2.9" fill="#000" />
<rect x="478.35" y="537.0" width="2.9" height="9.6" fill="#000" />
<rect x="513.6" y="540.3499999999999" width="9.6" height="2.9" fill="#000" />
<rect x="516.9499999999999" y="537.0" width="2.9" height="9.6" fill="#000" />
<rect x="552.0" y="540.3499999999999" width="9.6" height="2.9" fill="#000" />
<rect x="555.3499999999999" y="537.0" width="2.9" height="9.6" fill="#000" />
<rect x="590.0" y="540.3499999999999" width="9.6" height="2.9" fill="#000" />
<rect x="593.3499999999999" y="537.0" width="2.9" height="9.6" fill="#000" />
<text x="466.8" y="571.2" font-size="17.5" font-weight="bold" text-anchor="end" fill="#000"  style="">HUMSCs</text>
<rect x="474.1" y="566.3" width="11.4" height="3" fill="#000" />
<rect x="513.6" y="565.4499999999999" width="9.6" height="2.9" fill="#000" />
<rect x="516.9499999999999" y="562.1" width="2.9" height="9.6" fill="#000" />
<rect x="551.0999999999999" y="566.3" width="11.4" height="3" fill="#000" />
<rect x="590.0" y="565.4499999999999" width="9.6" height="2.9" fill="#000" />
<rect x="593.3499999999999" y="562.1" width="2.9" height="9.6" fill="#000" />
</svg>
</body></html>
